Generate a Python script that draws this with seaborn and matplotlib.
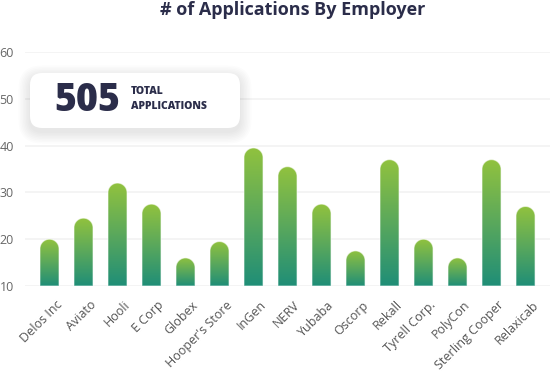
import numpy as np
import matplotlib
matplotlib.use("Agg")
import matplotlib.pyplot as plt
import matplotlib.transforms as mtransforms
from matplotlib.path import Path
from matplotlib.patches import PathPatch, FancyBboxPatch
from matplotlib.colors import LinearSegmentedColormap
import seaborn as sns

# -----------------------------
# Data
# -----------------------------

employers = ['Delos Inc', 'Aviato', 'Hooli', 'E Corp', 'Globex', "Hooper's Store",
             'InGen', 'NERV', 'Yubaba', 'Oscorp', 'Rekall', 'Tyrell Corp.',
             'PolyCon', 'Sterling Cooper', 'Relaxicab']
applications = [20, 24.5, 32, 27.5, 16, 19.5, 39.5, 35.5, 27.5, 17.5, 37, 20, 16, 37, 27]
total_applications = 505
y_ticks = [10, 20, 30, 40, 50, 60]

# -----------------------------
# Style
# -----------------------------

sns.set_theme(style="white")
plt.rcParams['font.family'] = ['Open Sans', 'DejaVu Sans']

navy = '#2b2d4a'
bar_cmap = LinearSegmentedColormap.from_list('bars', ['#1f8e77', '#5aa85c', '#91c23e'])

fig = plt.figure(figsize=(5.5, 3.74), dpi=100)
ax = fig.add_axes([25 / 550, 88 / 374, 525 / 550, 234 / 374])

sns.barplot(x=employers, y=applications, ax=ax, color='#2a9474',
            width=0.56, saturation=1)

ymin, ymax = y_ticks[0], y_ticks[-1]
ax.set_ylim(ymin, ymax)
ax.set_xlim(-0.72, len(employers) - 0.28)

# -----------------------------
# Rounded gradient bars
# -----------------------------

p0 = ax.transData.transform((0, 0))
p1 = ax.transData.transform((1, 1))
px_x = p1[0] - p0[0]
px_y = p1[1] - p0[1]

for bar in list(ax.patches):
    x0, w, top = bar.get_x(), bar.get_width(), bar.get_height()
    bar.remove()
    hw = w / 2
    cx = x0 + hw
    ry = hw * px_x / px_y
    t = np.linspace(0, np.pi, 40)
    verts = [(x0, ymin), (x0 + w, ymin), (x0 + w, top - ry)]
    verts += list(zip(cx + hw * np.cos(t), top - ry + ry * np.sin(t)))
    verts += [(x0, ymin), (x0, ymin)]
    codes = [Path.MOVETO] + [Path.LINETO] * (len(verts) - 2) + [Path.CLOSEPOLY]
    shape = PathPatch(Path(verts, codes), facecolor='none',
                      edgecolor=(1, 1, 1, 0.55), lw=0.8, zorder=3)
    ax.add_patch(shape)
    grad = np.linspace(0, 1, 256).reshape(-1, 1)
    im = ax.imshow(grad, cmap=bar_cmap, extent=[x0, x0 + w, ymin, top],
                   origin='lower', aspect='auto', zorder=2, interpolation='bicubic')
    im.set_clip_path(shape)

ax.set_ylim(ymin, ymax)
ax.set_xlim(-0.72, len(employers) - 0.28)

# -----------------------------
# Axes styling
# -----------------------------

ax.set_yticks(y_ticks)
ax.yaxis.grid(True, color='#f2f2f2', lw=1.2)
ax.set_axisbelow(True)
sns.despine(ax=ax, left=True, bottom=True)
ax.tick_params(axis='y', length=0, pad=8, labelsize=9, labelcolor='#666666')
ax.tick_params(axis='x', length=0, pad=9, labelsize=9, labelcolor='#555555')
ax.set_xticks(range(len(employers)))
ax.set_xticklabels(employers, rotation=45, ha='right', rotation_mode='anchor')
shift = mtransforms.ScaledTranslation(6 / 100, 0, fig.dpi_scale_trans)
for lbl in ax.get_xticklabels():
    lbl.set_transform(lbl.get_transform() + shift)
ax.set_xlabel('')
ax.set_ylabel('')

# -----------------------------
# Title and total callout
# -----------------------------

fig.text(293 / 550, 1 - 10 / 374, '# of Applications By Employer', ha='center',
         va='center', fontsize=13, fontweight='bold', color=navy)

px = mtransforms.Affine2D().scale(1 / 550, 1 / 374) + fig.transFigure
for i in range(8):
    g = 1 + i * 1.5
    shadow = FancyBboxPatch((30 - g, 242 - g), 210 + 2 * g, 55 + 2 * g,
                            boxstyle='round,pad=0,rounding_size=%s' % (12 + g),
                            transform=px, facecolor='#000000', alpha=0.011,
                            edgecolor='none', zorder=5)
    fig.add_artist(shadow)
box = FancyBboxPatch((30, 246), 210, 55, boxstyle='round,pad=0,rounding_size=12',
                     transform=px, facecolor='white', edgecolor='none', zorder=6)
fig.add_artist(box)

fig.text(54, 274, str(total_applications), transform=px, ha='left', va='center',
         fontsize=27, fontweight=800, color=navy, zorder=7)
fig.text(131, 275, 'TOTAL\nAPPLICATIONS', transform=px, ha='left', va='center',
         fontsize=7.5, fontweight=800, color=navy, linespacing=1.5, zorder=7)

fig.savefig('out.png', dpi=100)
